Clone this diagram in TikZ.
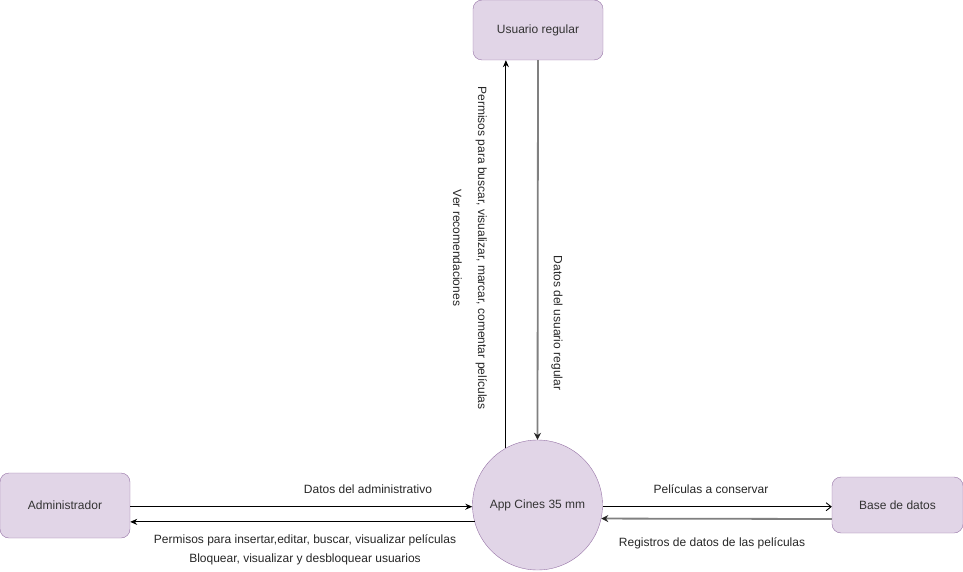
\documentclass[tikz,border=0pt]{standalone}
\usepackage{fontspec}
\setmainfont{Liberation Sans}
\usepackage{tikz}
\usetikzlibrary{%
	calc,%
	arrows,%
	arrows.meta,%
	positioning
}
\definecolor{lila}{HTML}{E1D5E7}
\definecolor{lila-borde}{HTML}{9673A6}
\definecolor{texto}{HTML}{333333}
\definecolor{gris}{HTML}{808080}

\tikzset{
	entidad/.style={draw=lila-borde,fill=lila,rounded corners=9pt,
		text=texto,font=\fontsize{12}{14}\selectfont,inner sep=0pt},
	proceso/.style={circle,draw=lila-borde,fill=lila,
		text=texto,font=\fontsize{12}{14}\selectfont,
		minimum size=130pt,inner sep=0pt},
	flujo/.style={draw=black,line width=0.9pt,-{Stealth[length=7pt,width=6pt]}},
	flujogris/.style={draw=gris,line width=1.8pt,-{Stealth[length=7pt,width=7pt,color=black!85]}},
	flujoabierto/.style={draw=black,line width=0.9pt,-{Straight Barb[length=5pt,width=8pt]}},
	etiqueta/.style={font=\fontsize{12}{14}\selectfont,text=black!85,inner sep=0pt}
}

\begin{document}
\begin{tikzpicture}[x=1pt,y=-1pt]
			\useasboundingbox (0,0) rectangle (963,572);
			
			% Entidades y proceso
			\node[entidad,minimum width=130pt,minimum height=60pt] (usuario) at (538,30) {Usuario regular};
			\node[entidad,minimum width=130pt,minimum height=65pt] (admin) at (65,505.5) {Administrador};
			\node[entidad,minimum width=131pt,minimum height=56pt] (base) at (897.5,505) {Base de datos};
			\node[proceso] (app) at (537.5,505) {App Cines 35 mm};
			
			% Flujos con el usuario
			\draw[flujo] (app.119) -- (app.119 |- usuario.south);
			\draw[flujogris] (usuario.south) -- (app.north);
			
			% Flujos con el administrador
			\draw[flujo] ([yshift=-1.2pt]admin.east) -- ([yshift=-1.7pt]app.west);
			\draw[flujo] (app.195) -- (app.195 -| admin.east);
			
			% Flujos con la base de datos
			\draw[flujoabierto] ([yshift=-1.7pt]app.east) -- ([yshift=-1.7pt]base.west);
			\draw[flujogris] ([yshift=-14pt]base.west) -- (app.-12);
			
			% Etiquetas
			\node[etiqueta,rotate=-90,align=center,font=\fontsize{12}{25}\selectfont] (l-permisos) at (470,248)
				{Permisos para buscar, visualizar, marcar, comentar películas\\Ver recomendaciones};
			\node[etiqueta,rotate=-90] (l-datosusuario) at (557,323) {Datos del usuario regular};
			\node[etiqueta] (l-datosadmin) at (368,489) {Datos del administrativo};
			\node[etiqueta,align=center,font=\fontsize{12}{19}\selectfont] (l-permisosadmin) at (305,549.5)
				{Permisos para insertar,editar, buscar, visualizar películas\\Bloquear, visualizar y desbloquear usuarios};
			\node[etiqueta] (l-conservar) at (711,489) {Películas a conservar};
			\node[etiqueta] (l-registros) at (712,543) {Registros de datos de las películas};
		\end{tikzpicture}
\end{document}
